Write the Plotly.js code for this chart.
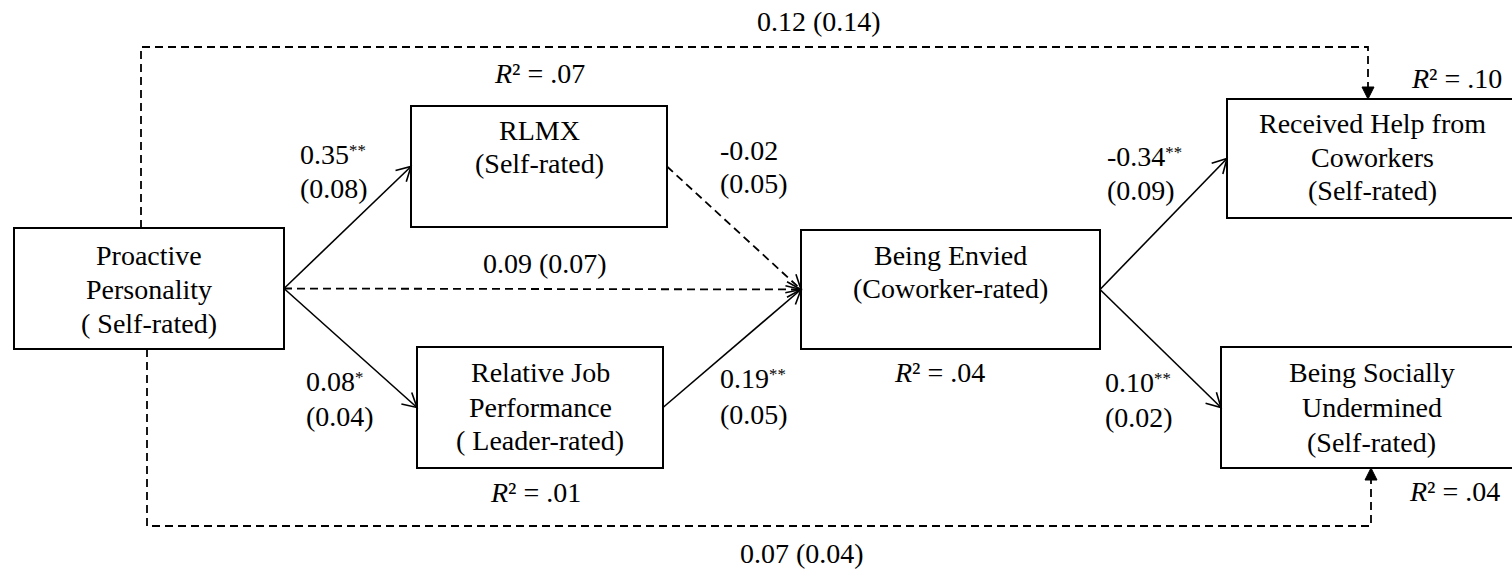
<!DOCTYPE html>
<html>
<head>
<meta charset="utf-8">
<script src="https://cdn.plot.ly/plotly-3.0.1.min.js"></script>
<style>
html,body{margin:0;padding:0;background:#fff;}
#chart{width:1512px;height:570px;}
</style>
</head>
<body>
<div id="chart"></div>
<script>
// ================= DATA =================
const nodeIds = ['PP', 'RLMX', 'RJP', 'BE', 'RH', 'BSU'];
const nodeLabels = [
  ['Proactive', 'Personality', '( Self-rated)'],
  ['RLMX', '(Self-rated)'],
  ['Relative Job', 'Performance', '( Leader-rated)'],
  ['Being Envied', '(Coworker-rated)'],
  ['Received Help from', 'Coworkers', '(Self-rated)'],
  ['Being Socially', 'Undermined', '(Self-rated)']
];
const rSquaredNodes = ['RLMX', 'RH', 'BE', 'RJP', 'BSU'];
const rSquaredValues = ['.07', '.10', '.04', '.01', '.04'];

const pathFrom  = ['PP',   'PP',  'PP', 'RLMX', 'RJP', 'BE',    'BE',   'PP',   'PP'];
const pathTo    = ['RLMX', 'RJP', 'BE', 'BE',   'BE',  'RH',    'BSU',  'RH',   'BSU'];
const pathCoef  = ['0.35', '0.08','0.09','-0.02','0.19','-0.34','0.10', '0.12', '0.07'];
const pathSE    = ['0.08', '0.04','0.07','0.05', '0.05','0.09', '0.02', '0.14', '0.04'];
const pathStars = ['**',   '*',   '',    '',     '**',  '**',   '**',   '',     ''];

// ================= LAYOUT (positions, sizes, styles) =================
const W = 1512, H = 570;
const FONT = 'Liberation Serif, Times New Roman, Times, serif';
const FS = 28;
const INK = '#000';

const nodeBox = { // x0, x1, y0, y1 (pixel space of the figure)
  PP:   [14, 284, 228, 349],
  RLMX: [411, 667, 106, 227],
  RJP:  [417, 663, 347, 468],
  BE:   [801, 1100, 230, 349],
  RH:   [1227, 1518, 99, 218],
  BSU:  [1221, 1522, 347, 468]
};
const nodeBaselines = {
  PP: [265, 299, 333], RLMX: [140, 173], RJP: [382, 417, 450],
  BE: [265, 298], RH: [133, 167, 200], BSU: [382, 417, 452]
};
const rSquaredPos = { RLMX: [539, 83], RH: [1456, 88], BE: [939, 382], RJP: [535, 502], BSU: [1454, 501] };

// label placement for each path (same order as path arrays): x, baseline1, baseline2(null = single line), anchor
const pathLabelPos = [
  [298, 164, 198, 'left'],
  [304, 391, 426, 'left'],
  [545, 273, null, 'center'],
  [718, 160, 193, 'left'],
  [718, 388, 424, 'left'],
  [1105, 166, 200, 'left'],
  [1103, 392, 427, 'left'],
  [819, 31, null, 'center'],
  [802, 563, null, 'center']
];
// routing for the long paths: null = straight (right-middle -> left-middle)
const pathRoute = [null, null, null, null, null, null, null,
  {side: 'top', xs: 141, level: 47, xe: 1368},
  {side: 'bottom', xs: 147, level: 526, xe: 1371}
];
const DASH = '8px,5px';
const STAR_STYLE = 'font-size:60%;baseline-shift:8px';

// ================= BUILD =================
const shapes = [];
const annotations = [];

function txt(x, baseline, text, anchor) {
  annotations.push({
    x: x, y: baseline - 27, xref: 'x', yref: 'y', text: text, showarrow: false,
    xanchor: anchor || 'center', yanchor: 'top',
    font: {family: FONT, size: FS, color: INK}
  });
}
function stars(s) { return s ? '<span style="' + STAR_STYLE + '">' + s + '</span>' : ''; }

// boxes and box labels
nodeIds.forEach((id, i) => {
  const b = nodeBox[id];
  shapes.push({type: 'rect', xref: 'x', yref: 'y', x0: b[0], x1: b[1], y0: b[2], y1: b[3],
    line: {color: INK, width: 2}, fillcolor: 'rgba(0,0,0,0)', layer: 'above'});
  const cx = (b[0] + b[1]) / 2;
  nodeLabels[i].forEach((line, k) => txt(cx, nodeBaselines[id][k], line, 'center'));
});

// R squared labels
rSquaredNodes.forEach((id, i) => {
  const p = rSquaredPos[id];
  txt(p[0], p[1], '<i>R</i>\u00B2 = ' + rSquaredValues[i], 'center');
});

function openHead(tx, ty, dx, dy) {
  const L = 16, th = 29 * Math.PI / 180;
  const n = Math.hypot(dx, dy); const ux = dx / n, uy = dy / n;
  const a = [tx - L * (ux * Math.cos(th) - uy * Math.sin(th)), ty - L * (ux * Math.sin(th) + uy * Math.cos(th))];
  const c = [tx - L * (ux * Math.cos(-th) - uy * Math.sin(-th)), ty - L * (ux * Math.sin(-th) + uy * Math.cos(-th))];
  shapes.push({type: 'path', xref: 'x', yref: 'y',
    path: `M${a[0]},${a[1]} L${tx},${ty} L${c[0]},${c[1]}`,
    line: {color: INK, width: 1.6}});
}
function filledHead(tx, ty, dirY) {
  const L = 12, hw = 6;
  const by = ty - dirY * L;
  shapes.push({type: 'path', xref: 'x', yref: 'y',
    path: `M${tx},${ty} L${tx - hw},${by} L${tx + hw},${by} Z`,
    line: {color: INK, width: 1}, fillcolor: INK});
  return by;
}

pathFrom.forEach((from, i) => {
  const to = pathTo[i];
  const sig = pathStars[i] !== '';
  const route = pathRoute[i];
  const fb = nodeBox[from], tb = nodeBox[to];
  if (!route) {
    const x0 = fb[1], y0 = (fb[2] + fb[3]) / 2;
    const x1 = tb[0], y1 = (tb[2] + tb[3]) / 2;
    shapes.push({type: 'line', xref: 'x', yref: 'y', x0: x0, y0: y0, x1: x1, y1: y1,
      line: {color: INK, width: sig ? 1.6 : 1.8, dash: sig ? 'solid' : DASH}});
    openHead(x1, y1, x1 - x0, y1 - y0);
  } else {
    let ys, ye, dirY;
    if (route.side === 'top') { ys = fb[2]; ye = tb[2]; dirY = 1; }
    else { ys = fb[3]; ye = tb[3]; dirY = -1; }
    const base = filledHead(route.xe, ye, dirY);
    shapes.push({type: 'path', xref: 'x', yref: 'y',
      path: `M${route.xs},${ys} L${route.xs},${route.level} L${route.xe},${route.level} L${route.xe},${base}`,
      line: {color: INK, width: 1.8, dash: DASH}});
  }
  // coefficient labels
  const p = pathLabelPos[i];
  if (p[2] === null) {
    txt(p[0], p[1], pathCoef[i] + stars(pathStars[i]) + ' (' + pathSE[i] + ')', p[3]);
  } else {
    txt(p[0], p[1], pathCoef[i] + stars(pathStars[i]), p[3]);
    txt(p[0], p[2], '(' + pathSE[i] + ')', p[3]);
  }
});

const layout = {
  width: W, height: H,
  margin: {l: 0, r: 0, t: 0, b: 0, pad: 0},
  paper_bgcolor: '#fff', plot_bgcolor: '#fff',
  showlegend: false,
  font: {family: FONT, size: FS, color: INK},
  xaxis: {range: [0, W], visible: false, fixedrange: true},
  yaxis: {range: [H, 0], visible: false, fixedrange: true},
  shapes: shapes,
  annotations: annotations
};

Plotly.newPlot('chart', [], layout, {displayModeBar: false, staticPlot: true});
</script>
</body>
</html>
